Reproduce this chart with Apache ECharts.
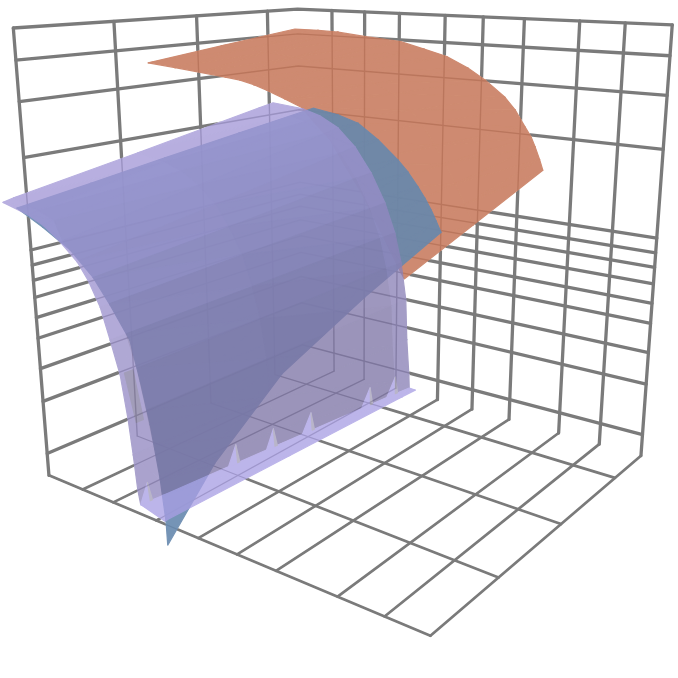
<!DOCTYPE html><html><head><meta charset="utf-8"><script src="https://cdn.jsdelivr.net/npm/echarts@6/dist/echarts.min.js"></script><style>html,body{margin:0;background:#fff}#c{width:678px;height:678px}</style></head><body><div id="c"></div><script>
// Axis ticks in box units (0..1): where each gridline meets the wall and the floor's outer edge
const uTicks=[1,0.704,0.418,0.134];
const uFloorTicks=[1,0.739,0.453,0.16];
const vTicks=[0.112,0.214,0.318,0.448,0.551,0.657,0.792,0.897,1];
const vFloorTicks=[0.112,0.209,0.338,0.456,0.559,0.657,0.802,0.905,1];
const zTicks=[0.054,0.181,0.259,0.330,0.378,0.424,0.463,0.497,0.531,0.732,0.850,0.935,1];
// Surface samples, thousandths of a box unit
const purpleU=[1590,1532,1265,973,940];
const purpleV=[[644,598,597,621,627],[695,652,657,687,693],[725,683,691,723,729],[757,698,726,761,767],[788,730,760,795,802],[807,756,785,827,835],[827,785,810,855,863],[842,815,828,875,883],[857,832,842,888,896],[867,846,853,899,906],[873,857,857,902,909],[878,866,863,907,914],[882,868,865,907,915],[926,876,894,921,927]];
const purpleZ=[[821,812,843,888,894],[811,801,835,882,889],[801,791,825,873,880],[783,764,807,856,863],[761,741,781,827,834],[739,721,750,788,793],[706,689,710,740,745],[664,652,663,692,696],[619,606,614,642,646],[560,548,552,578,583],[509,498,490,508,512],[459,448,433,446,449],[439,426,410,422,425],[429,392,403,420,424]];
const blueU=[1590,1408,1225,1043,860];
const blueV=[[673,632,619,629,658],[724,686,674,684,713],[776,736,722,730,756],[817,778,764,773,798],[846,809,799,811,839],[879,838,825,835,860],[894,851,839,853,880],[908,861,849,867,894],[921,869,857,878,907],[928,868,857,885,917],[929,861,851,889,927]];
const blueZ=[[817,819,832,852,879],[798,802,817,841,872],[775,781,798,826,861],[745,751,770,798,836],[713,718,737,767,805],[672,680,706,742,786],[619,632,666,711,763],[562,580,626,683,745],[490,517,579,652,726],[430,464,540,625,708],[395,430,516,608,690]];
const orangeU=[1510,1350,1190];
const orangeV=[[861,851,861],[907,896,903],[949,934,938],[989,978,985],[1012,1018,1042],[1033,1047,1079],[1053,1075,1114],[1079,1104,1146],[1104,1129,1172],[1123,1154,1201],[1143,1171,1216],[1163,1189,1231],[1184,1204,1240],[1204,1218,1246],[1224,1232,1253],[1243,1244,1258]];
const orangeZ=[[1019,1030,1045],[1016,1028,1045],[1013,1026,1044],[1010,1022,1040],[1008,1020,1036],[1004,1014,1028],[999,1008,1020],[991,997,1007],[983,986,993],[966,968,973],[950,952,958],[923,928,937],[897,908,925],[866,885,913],[834,861,897],[804,838,884]];
const purpleColF=[0,.08,.5,.95,1];
const toothF=[.035,.35,.5,.63,.85,.95];

// Camera: calibrated from where the box corners fall in the view
const cameraCorners=[[0,0,0,303,362],[1,0,0,48,475],[0,1,0,640,457],[1,1,0,432,635],[0,0,1,298,9],[1,0,1,13,29],[0,1,1,672,24]];
function fitCamera(){const A=[],b=[];for(const [u,v,z,x,y] of cameraCorners){A.push([u,v,z,1,0,0,0,0,-x*u,-x*v,-x*z]);b.push(x);A.push([0,0,0,0,u,v,z,1,-y*u,-y*v,-y*z]);b.push(y);}
const n=11,M=[];for(let i=0;i<n;i++){M[i]=[];for(let j=0;j<n;j++){let s=0;for(let k=0;k<A.length;k++)s+=A[k][i]*A[k][j];M[i][j]=s;}let s=0;for(let k=0;k<A.length;k++)s+=A[k][i]*b[k];M[i][n]=s;}
for(let i=0;i<n;i++){let p=i;for(let r=i;r<n;r++)if(Math.abs(M[r][i])>Math.abs(M[p][i]))p=r;[M[i],M[p]]=[M[p],M[i]];for(let r=0;r<n;r++){if(r==i)continue;const f=M[r][i]/M[i][i];for(let c=i;c<=n;c++)M[r][c]-=f*M[i][c];}}
const s=M.map((r,i)=>r[n]/r[i]);return [s.slice(0,4),s.slice(4,8),[s[8],s[9],s[10],1]];}
const P=fitCamera();
function project(q,api){const h=q[0]*P[2][0]+q[1]*P[2][1]+q[2]*P[2][2]+P[2][3];
const x=(q[0]*P[0][0]+q[1]*P[0][1]+q[2]*P[0][2]+P[0][3])/h,y=(q[0]*P[1][0]+q[1]*P[1][1]+q[2]*P[1][2]+P[1][3])/h;return api.coord([x,y]);}
const vert=(U,V,Z,r,c)=>[U[c]/1000,V[r][c]/1000,Z[r][c]/1000];

// Grid polylines on the two walls and the floor
const gridPaths=[];
uTicks.forEach((u,i)=>{gridPaths.push({pts:[[uFloorTicks[i],1,0],[u,0,0]],floor:true});gridPaths.push({pts:[[u,0,0],[u,0,1]]});});
vTicks.forEach((v,i)=>{gridPaths.push({pts:[[1,vFloorTicks[i],0],[0,v,0]],floor:true});gridPaths.push({pts:[[0,v,0],[0,v,1]]});});
zTicks.forEach(z=>gridPaths.push({pts:[[1,0,z],[0,0,z],[0,1,z]]}));

const mix=(a,b,t)=>'rgb('+a.map((x,i)=>Math.round(x+(b[i]-x)*t)).join(',')+')';
const orangeFill=[198,118,88],blueFill=[102,136,174],purpleLight=[163,152,215],purpleDark=[126,117,166],purpleFlat=[169,159,228];
const purpleRowTone=[1,.97,.92,.85,.76,.6,.4,.2,.08,0,0,0];
const purpleEdgeTone=[1,1,1,.95,.9,.85,.8,.7,.65,.55,.5,.45];

function meshCells(U,V,Z,colour){const cells=[];for(let r=0;r<V.length-1;r++)for(let c=0;c<U.length-1;c++){
const a=vert(U,V,Z,r,c),b=vert(U,V,Z,r,c+1),d=vert(U,V,Z,r+1,c+1),e=vert(U,V,Z,r+1,c);
cells.push({pts:[a,b,d],fill:colour(r,c,.02)});cells.push({pts:[a,d,e],fill:colour(r,c,-.02)});}return cells;}
const orangeCells=meshCells(orangeU,orangeV,orangeZ,()=>mix(orangeFill,orangeFill,0));
const blueCells=meshCells(blueU,blueV,blueZ,()=>mix(blueFill,blueFill,0));
const purpleCells=meshCells(purpleU,purpleV,purpleZ,(r,c,d)=>{
 if(r>=purpleRowTone.length)return mix(purpleFlat,purpleFlat,0);
 let t=purpleRowTone[r];
 if(c===0)t=purpleEdgeTone[r];
 else if(c===3)t+=(1-t)*.3;
 else{t+=d*(t>.02?1:.5);if(c===1&&d<0&&r>=4&&r<=8)t+=.07;t=Math.max(0,Math.min(1,t));}
 return mix(purpleDark,purpleLight,t);});
const maskCells=[...orangeCells,...blueCells,...purpleCells].map(m=>({pts:m.pts,fill:'#fff'}));
function surfacePoint(rowF,f){const r=Math.floor(rowF),k=rowF-r;let c=0;while(c<purpleColF.length-2&&f>purpleColF[c+1])c++;const g=(f-purpleColF[c])/(purpleColF[c+1]-purpleColF[c]);
const at=R=>{const a=vert(purpleU,purpleV,purpleZ,R,c),b=vert(purpleU,purpleV,purpleZ,R,c+1);return a.map((x,i)=>x+(b[i]-x)*g);};
const A=at(r),B=r+1<purpleV.length?at(r+1):A;return A.map((x,i)=>x+(B[i]-x)*k);}
toothF.forEach(f=>{const base=12,apex=10.9;
 purpleCells.push({pts:[surfacePoint(base,f-.035),surfacePoint(base,f),surfacePoint(apex,f)],fill:mix(purpleFlat,purpleFlat,0)});
 purpleCells.push({pts:[surfacePoint(base,f),surfacePoint(base,f+.008),surfacePoint(apex,f)],fill:'rgb(165,160,186)'});});
purpleCells.push({pts:[surfacePoint(8,.02),surfacePoint(8,.06),surfacePoint(9.2,.06),surfacePoint(9.2,.03)],fill:'rgb(135,128,165)'});

function polySeries(cells,z){return {type:'custom',coordinateSystem:'cartesian2d',zlevel:z,silent:true,clip:false,animation:false,
 data:cells.map((_,i)=>[i,i]),encode:{x:0,y:1},
 renderItem:(p,api)=>{const m=cells[p.dataIndex];return {type:'polygon',shape:{points:m.pts.map(q=>project(q,api))},style:{fill:m.fill,stroke:m.fill,lineWidth:1.2,lineJoin:'round'}};}};}
function gridSeries(z,wallW,floorW){return {type:'custom',coordinateSystem:'cartesian2d',zlevel:z,silent:true,clip:false,animation:false,
 data:gridPaths.map((_,i)=>[i,i]),encode:{x:0,y:1},
 renderItem:(p,api)=>{const m=gridPaths[p.dataIndex];return {type:'polyline',shape:{points:m.pts.map(q=>project(q,api))},style:{fill:null,stroke:'#7b7b7b',lineWidth:m.floor?floorW:wallW,lineJoin:'round',lineCap:'round'}};}};}
const chart=echarts.init(document.getElementById('c'));
chart.setOption({animation:false,backgroundColor:'#fff',grid:{left:0,right:0,top:0,bottom:0},
 xAxis:{type:'value',min:0,max:678,show:false},yAxis:{type:'value',min:0,max:678,inverse:true,show:false},
 series:[gridSeries(0,3.3,2.7),polySeries(maskCells,1),gridSeries(2,1.4,1.2),polySeries(orangeCells,3),polySeries(blueCells,4),polySeries(purpleCells,5)]});
const sheetOpacity={3:.85,4:.9,5:.77};
function applyOpacity(){const pt=chart.getZr().painter;Object.keys(sheetOpacity).forEach(z=>{const l=pt.getLayer(+z);if(l&&l.dom)l.dom.style.opacity=sheetOpacity[z];});}
applyOpacity();chart.on('finished',applyOpacity);
</script></body></html>
